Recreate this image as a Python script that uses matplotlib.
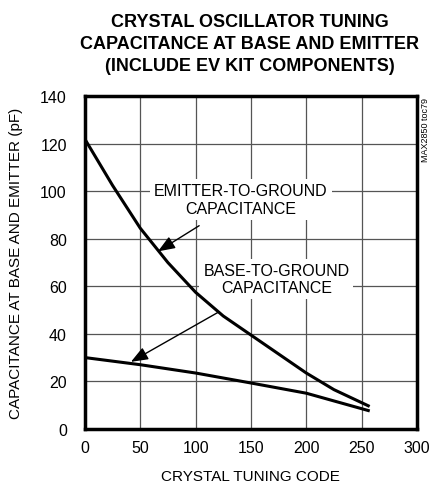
import numpy as np
import matplotlib
matplotlib.use("Agg")
import matplotlib.pyplot as plt

plt.rcParams['font.family'] = ['Liberation Sans Narrow', 'Liberation Sans', 'DejaVu Sans']

# emitter-to-ground capacitance vs tuning code
code_e = [0, 25, 50, 75, 100, 125, 150, 175, 200, 225, 256]
cap_e = [122, 102.5, 84.5, 70, 57.5, 47.5, 39.5, 31.5, 23.5, 16.5, 9.7]

# base-to-ground capacitance
code_b = [0, 50, 100, 150, 200, 256]
cap_b = [30, 27, 23.5, 19.3, 15, 7.7]

xticks = [0, 50, 100, 150, 200, 250, 300]
yticks = [0, 20, 40, 60, 80, 100, 120, 140]

fig = plt.figure(figsize=(4.33, 4.89), dpi=100)
ax = fig.add_axes([0.196, 0.121, 0.767, 0.680])

# curves on top of the label boxes
ax.plot(code_e, cap_e, color='black', lw=2.2, solid_joinstyle='round', zorder=5)
ax.plot(code_b, cap_b, color='black', lw=2.2, solid_joinstyle='round', zorder=5)

ax.set_xlim(0, 300)
ax.set_ylim(0, 140)
ax.set_xticks(xticks)
ax.set_yticks(yticks)
ax.grid(True, color='#555555', lw=0.9)
ax.set_axisbelow(True)
ax.tick_params(length=0, labelsize=11.5)
ax.tick_params(axis='x', pad=8)
ax.tick_params(axis='y', pad=13)
for s in ax.spines.values():
    s.set_linewidth(2.5)
    s.set_zorder(6)

ax.set_xlabel('CRYSTAL TUNING CODE', fontsize=11, labelpad=10)
ax.set_ylabel('CAPACITANCE AT BASE AND EMITTER (pF)', fontsize=11, labelpad=12)

fig.text(0.577, 0.972, 'CRYSTAL OSCILLATOR TUNING\nCAPACITANCE AT BASE AND EMITTER\n(INCLUDE EV KIT COMPONENTS)',
         ha='center', va='top', fontsize=13, fontweight='bold', linespacing=1.38)

box = dict(boxstyle='square,pad=0.25', fc='white', ec='none')
ax.annotate('EMITTER-TO-GROUND\nCAPACITANCE', xy=(66, 74.7), xytext=(141, 96.5),
            ha='center', va='center', fontsize=11.5, linespacing=1.2, bbox=box, zorder=4,
            arrowprops=dict(arrowstyle='-|>,head_length=0.9,head_width=0.35', color='black',
                            lw=1, shrinkA=8, shrinkB=0))
ax.annotate('BASE-TO-GROUND\nCAPACITANCE', xy=(41.6, 28.2), xytext=(173, 63),
            ha='center', va='center', fontsize=11.5, linespacing=1.2, bbox=box, zorder=4,
            arrowprops=dict(arrowstyle='-|>,head_length=0.9,head_width=0.35', color='black',
                            lw=1, shrinkA=18, shrinkB=0))

fig.text(0.982, 0.80, 'MAX2850 toc79', rotation=90, ha='center', va='top', fontsize=6.5)

fig.savefig('out.png', dpi=100)
